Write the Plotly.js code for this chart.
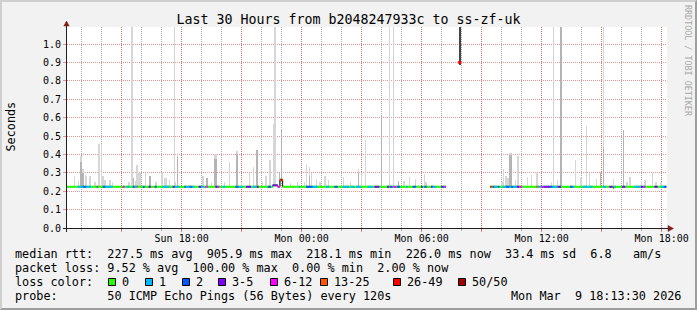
<!DOCTYPE html>
<html><head><meta charset="utf-8">
<script src="https://cdn.plot.ly/plotly-3.0.1.min.js"></script>
<style>
html,body{margin:0;padding:0;background:#f2f2f2;}
#wrap{position:relative;width:697px;height:310px;overflow:hidden;}
#chart{position:absolute;left:0;top:0;width:697px;height:310px;}
#frame{position:absolute;left:0;top:0;width:697px;height:310px;box-sizing:border-box;border-style:solid;border-width:2px;border-color:#cfcfcf #9e9e9e #9e9e9e #cfcfcf;pointer-events:none;}
</style></head><body>
<div id="wrap"><div id="chart"></div><div id="frame"></div></div>
<script>
// ---------------- data ----------------
const titleText = 'Last 30 Hours from b2048247933c to ss-zf-uk';
const xRange = ['2026-03-08 12:16', '2026-03-09 18:16'];
const xTickVals = ['2026-03-08 15:00','2026-03-08 18:00','2026-03-08 21:00','2026-03-09 00:00','2026-03-09 03:00',
                   '2026-03-09 06:00','2026-03-09 09:00','2026-03-09 12:00','2026-03-09 15:00','2026-03-09 18:00'];
const xTickText = ['', 'Sun 18:00', '', 'Mon 00:00', '', 'Mon 06:00', '', 'Mon 12:00', '', 'Mon 18:00'];

const lossColors = ['#26ff00','#00b8ff','#0059ff','#7e00ff','#ff00ff','#ff5500','#ff0000','#a10000'];
const lossLabels = ['0','1','2','3-5','6-12','13-25','26-49','50/50'];

// median rtt (seconds), step series; null = no data
const medianTime = ['2026-03-08 12:16','2026-03-08 22:33','2026-03-08 22:48','2026-03-08 22:55','2026-03-08 23:03',
                    '2026-03-09 07:13','2026-03-09 07:14','2026-03-09 09:26','2026-03-09 15:35','2026-03-09 15:37','2026-03-09 18:14'];
const medianVal  = [0.224, 0.232, 0.224, 0.262, 0.224, 0.224, null, 0.224, 0.216, 0.224, 0.224];

// smoke (spread of the pings above the median)
const smokeTime = [
 '2026-03-08 12:38','2026-03-08 12:50','2026-03-08 12:58','2026-03-08 13:04','2026-03-08 13:11','2026-03-08 13:15',
 '2026-03-08 13:25','2026-03-08 13:40','2026-03-08 13:52','2026-03-08 13:59','2026-03-08 14:04','2026-03-08 14:10',
 '2026-03-08 14:25','2026-03-08 14:33','2026-03-08 15:22','2026-03-08 15:29','2026-03-08 15:32','2026-03-08 15:35',
 '2026-03-08 15:41','2026-03-08 15:46','2026-03-08 15:52','2026-03-08 15:57','2026-03-08 16:11','2026-03-08 16:25',
 '2026-03-08 16:43','2026-03-08 17:01','2026-03-08 17:10','2026-03-08 17:15','2026-03-08 17:24','2026-03-08 17:38',
 '2026-03-08 17:41','2026-03-08 17:48','2026-03-08 19:04','2026-03-08 19:16','2026-03-08 19:29','2026-03-08 19:40',
 '2026-03-08 19:43','2026-03-08 20:09','2026-03-08 20:23','2026-03-08 20:46','2026-03-08 20:59','2026-03-08 21:23',
 '2026-03-08 21:35','2026-03-08 21:46','2026-03-08 22:03','2026-03-08 22:13','2026-03-08 22:25','2026-03-08 22:35',
 '2026-03-08 22:39','2026-03-08 22:42','2026-03-08 22:53','2026-03-08 22:59','2026-03-08 23:26','2026-03-08 23:48',
 '2026-03-09 00:08','2026-03-09 00:15','2026-03-09 00:23','2026-03-09 00:30','2026-03-09 00:44','2026-03-09 00:55',
 '2026-03-09 01:10','2026-03-09 01:20','2026-03-09 02:05','2026-03-09 02:26','2026-03-09 02:50','2026-03-09 02:59',
 '2026-03-09 03:11','2026-03-09 03:59','2026-03-09 04:23','2026-03-09 04:35','2026-03-09 04:50','2026-03-09 05:07',
 '2026-03-09 05:23','2026-03-09 05:41','2026-03-09 06:08','2026-03-09 06:13','2026-03-09 10:01','2026-03-09 10:05',
 '2026-03-09 10:13','2026-03-09 10:19','2026-03-09 10:25','2026-03-09 10:29','2026-03-09 10:41','2026-03-09 10:49',
 '2026-03-09 11:18','2026-03-09 11:30','2026-03-09 11:46','2026-03-09 12:30','2026-03-09 12:35','2026-03-09 12:48',
 '2026-03-09 12:58','2026-03-09 13:42','2026-03-09 13:58','2026-03-09 14:14','2026-03-09 14:23','2026-03-09 14:44',
 '2026-03-09 14:56','2026-03-09 15:06','2026-03-09 15:36','2026-03-09 16:06','2026-03-09 16:16','2026-03-09 16:25',
 '2026-03-09 17:00','2026-03-09 17:10','2026-03-09 17:33','2026-03-09 17:43','2026-03-09 17:58'];
const smokeMax = [
 0.28,0.257,0.393,0.32,0.29,0.283,
 0.28,0.25,0.458,0.458,0.28,0.26,
 0.26,0.25,0.25,1.5,1.5,0.27,
 0.255,0.34,0.30,0.30,0.30,0.28,
 0.25,0.30,0.27,0.27,0.26,1.5,
 0.25,0.41,0.285,0.27,0.25,0.40,
 0.40,0.25,0.36,0.42,0.25,0.30,
 0.33,0.425,0.25,0.28,0.37,0.565,
 1.5,1.5,0.30,0.534,0.245,0.25,
 0.25,0.35,0.33,0.30,0.265,0.25,
 0.285,0.26,0.275,0.25,0.32,0.30,
 0.476,0.61,1.5,1.5,0.255,0.255,
 0.275,0.265,0.295,0.25,0.25,0.32,
 0.285,0.27,0.41,0.41,0.26,0.39,
 0.275,0.29,0.30,0.25,1.5,0.26,
 1.5,0.37,0.27,0.556,0.30,0.265,
 0.305,1.5,0.265,0.53,0.25,0.275,
 0.255,0.26,0.30,0.25,0.25];
const smokeMid = [
 null,null,0.36,0.30,null,null,
 null,null,null,null,null,null,
 null,null,null,null,null,0.27,
 null,null,null,null,null,0.28,
 null,null,null,null,null,null,
 null,0.385,null,0.27,null,0.376,
 0.376,null,null,0.40,null,null,
 null,0.425,null,null,null,null,
 null,null,0.30,0.534,null,null,
 null,null,0.28,null,null,null,
 null,null,null,null,0.30,null,
 null,0.61,null,null,0.255,null,
 null,null,null,null,null,null,
 null,null,0.395,0.395,null,null,
 null,null,null,null,null,null,
 1.5,null,null,null,null,null,
 0.30,0.44,null,0.53,null,null,
 null,null,null,null,null];

// packet loss periods (index into lossColors)
const lossStart = [
 '2026-03-08 12:48','2026-03-08 13:03','2026-03-08 13:13','2026-03-08 13:45','2026-03-08 14:03','2026-03-08 14:11',
 '2026-03-08 15:03','2026-03-08 15:15','2026-03-08 15:33','2026-03-08 15:39','2026-03-08 15:45','2026-03-08 16:03',
 '2026-03-08 16:21','2026-03-08 16:39','2026-03-08 17:03','2026-03-08 17:33','2026-03-08 17:39','2026-03-08 18:08',
 '2026-03-08 18:13','2026-03-08 18:23','2026-03-08 18:31','2026-03-08 18:51','2026-03-08 18:58','2026-03-08 19:11',
 '2026-03-08 19:41','2026-03-08 19:48','2026-03-08 20:03','2026-03-08 20:41','2026-03-08 20:53','2026-03-08 21:13',
 '2026-03-08 21:33','2026-03-08 21:45','2026-03-08 22:18','2026-03-08 22:33','2026-03-08 22:48','2026-03-08 22:55',
 '2026-03-08 23:51','2026-03-09 00:13','2026-03-09 00:33','2026-03-09 01:13','2026-03-09 01:38','2026-03-09 02:03',
 '2026-03-09 02:28','2026-03-09 02:43','2026-03-09 03:18','2026-03-09 03:38','2026-03-09 04:16','2026-03-09 04:25',
 '2026-03-09 04:35','2026-03-09 04:45','2026-03-09 05:13','2026-03-09 05:33','2026-03-09 05:58','2026-03-09 06:08',
 '2026-03-09 06:28','2026-03-09 06:33','2026-03-09 06:58','2026-03-09 07:03','2026-03-09 07:08','2026-03-09 09:26',
 '2026-03-09 09:29','2026-03-09 09:33','2026-03-09 09:38','2026-03-09 09:48','2026-03-09 10:03','2026-03-09 10:13',
 '2026-03-09 10:23','2026-03-09 10:28','2026-03-09 10:35','2026-03-09 10:45','2026-03-09 10:53','2026-03-09 11:43',
 '2026-03-09 11:48','2026-03-09 11:58','2026-03-09 12:05','2026-03-09 12:25','2026-03-09 12:33','2026-03-09 12:48',
 '2026-03-09 13:25','2026-03-09 13:33','2026-03-09 14:03','2026-03-09 14:21','2026-03-09 15:03','2026-03-09 15:23',
 '2026-03-09 15:38','2026-03-09 16:01','2026-03-09 16:38','2026-03-09 16:58','2026-03-09 17:05','2026-03-09 17:38',
 '2026-03-09 17:58','2026-03-09 18:06'];
const lossEnd = [
 '2026-03-08 13:03','2026-03-08 13:13','2026-03-08 13:28','2026-03-08 13:48','2026-03-08 14:11','2026-03-08 14:33',
 '2026-03-08 15:09','2026-03-08 15:23','2026-03-08 15:39','2026-03-08 15:45','2026-03-08 15:48','2026-03-08 16:09',
 '2026-03-08 16:27','2026-03-08 16:45','2026-03-08 17:23','2026-03-08 17:39','2026-03-08 17:53','2026-03-08 18:13',
 '2026-03-08 18:23','2026-03-08 18:31','2026-03-08 18:38','2026-03-08 18:58','2026-03-08 19:08','2026-03-08 19:18',
 '2026-03-08 19:48','2026-03-08 19:53','2026-03-08 20:11','2026-03-08 20:51','2026-03-08 21:03','2026-03-08 21:28',
 '2026-03-08 21:43','2026-03-08 21:51','2026-03-08 22:28','2026-03-08 22:48','2026-03-08 22:55','2026-03-08 23:03',
 '2026-03-08 23:55','2026-03-09 00:33','2026-03-09 00:48','2026-03-09 01:23','2026-03-09 01:48','2026-03-09 02:23',
 '2026-03-09 02:38','2026-03-09 02:58','2026-03-09 03:33','2026-03-09 03:53','2026-03-09 04:23','2026-03-09 04:33',
 '2026-03-09 04:43','2026-03-09 04:55','2026-03-09 05:18','2026-03-09 05:43','2026-03-09 06:03','2026-03-09 06:15',
 '2026-03-09 06:33','2026-03-09 06:43','2026-03-09 07:03','2026-03-09 07:08','2026-03-09 07:13','2026-03-09 09:29',
 '2026-03-09 09:33','2026-03-09 09:38','2026-03-09 09:48','2026-03-09 09:53','2026-03-09 10:13','2026-03-09 10:23',
 '2026-03-09 10:28','2026-03-09 10:35','2026-03-09 10:45','2026-03-09 10:53','2026-03-09 11:01','2026-03-09 11:48',
 '2026-03-09 11:58','2026-03-09 12:05','2026-03-09 12:25','2026-03-09 12:33','2026-03-09 12:48','2026-03-09 12:58',
 '2026-03-09 13:33','2026-03-09 13:38','2026-03-09 14:18','2026-03-09 14:33','2026-03-09 15:13','2026-03-09 15:33',
 '2026-03-09 15:43','2026-03-09 16:11','2026-03-09 16:58','2026-03-09 17:05','2026-03-09 17:11','2026-03-09 17:48',
 '2026-03-09 18:06','2026-03-09 18:14'];
const lossClass = [
 1,2,1,3,2,1,
 4,1,2,1,4,2,
 3,2,1,3,1,2,
 1,2,1,3,1,4,
 3,4,1,2,1,3,
 1,3,2,3,4,6,
 1,2,1,1,2,1,
 1,1,1,3,3,2,
 4,2,1,2,3,2,
 3,1,3,2,4,7,
 5,2,1,2,1,2,
 1,2,1,3,4,5,
 1,4,3,2,1,3,
 2,1,1,1,1,3,
 1,3,1,3,4,3,
 1,2];

// isolated sample during the outage
const outageTime = ['2026-03-09 07:54'];
const outageMedian = [0.90];
const outageSmokeLow = [0.885];
const outageSmokeHigh = [1.5];

const legendLines = [
 'median rtt:  227.5 ms avg  905.9 ms max  218.1 ms min  226.0 ms now  33.4 ms sd  6.8   am/s',
 'packet loss: 9.52 % avg  100.00 % max  0.00 % min  2.00 % now',
 'loss color:',
 'probe:       50 ICMP Echo Pings (56 Bytes) every 120s'];
const stampText = 'Mon Mar  9 18:13:30 2026';
const watermark = 'RRDTOOL / TOBI OETIKER';

// ---------------- drawing ----------------
const FONT = 'DejaVu Sans Mono';
const L = 67, T = 27, W = 600, H = 201;
const YMAX = H / 184;
const P = px => (px - L) / W;          // pixel -> paper x
const Q = py => (T + H - py) / H;      // pixel -> paper y
const nb = s => s.replace(/ /g, '\u00a0');

function medianAt(t) {
  let v = null;
  for (let i = 0; i < medianTime.length; i++) { if (medianTime[i] <= t) v = medianVal[i]; }
  return v;
}

const traces = [];
const BW = 240000;
// smoke
const sBase = smokeTime.map(medianAt);
traces.push({type:'bar', x: smokeTime, base: sBase, y: smokeMax.map((v,i)=>v - sBase[i]),
  width: BW, marker:{color:'#d6d6d6', line:{width:0}}, hoverinfo:'skip'});
const midIdx = smokeMid.map((v,i)=>v===null?-1:i).filter(i=>i>=0);
traces.push({type:'bar', x: midIdx.map(i=>smokeTime[i]), base: midIdx.map(i=>sBase[i]),
  y: midIdx.map(i=>smokeMid[i]-sBase[i]), width: BW, marker:{color:'#b4b4b4', line:{width:0}}, hoverinfo:'skip'});
// outage sample smoke
traces.push({type:'bar', x: outageTime, base: outageSmokeLow, y: outageSmokeHigh.map((v,i)=>v-outageSmokeLow[i]),
  width: 300000, marker:{color:'#454545', line:{width:0}}, hoverinfo:'skip'});
// median connector (vertical joins)
traces.push({type:'scatter', mode:'lines', x: medianTime, y: medianVal, line:{shape:'hv', color:'#000000', width:1},
  connectgaps:false, hoverinfo:'skip'});
// median in green (0 loss)
const gx = [], gy = [];
for (let i = 0; i < medianTime.length - 1; i++) {
  if (medianVal[i] === null || medianVal[i+1] === null) continue;
  gx.push(medianTime[i], medianTime[i+1], null); gy.push(medianVal[i], medianVal[i], null);
}
traces.push({type:'scatter', mode:'lines', x: gx, y: gy, line:{color: lossColors[0], width:2}, hoverinfo:'skip'});
// loss colored segments
for (let c = 1; c < lossColors.length; c++) {
  const x = [], y = [];
  lossClass.forEach((k,i) => { if (k === c) { const m = medianAt(lossStart[i]); x.push(lossStart[i], lossEnd[i], null); y.push(m, m, null); } });
  if (x.length) traces.push({type:'scatter', mode:'lines', x, y, line:{color: lossColors[c], width:2}, hoverinfo:'skip'});
}
traces.push({type:'scatter', mode:'markers', x: outageTime, y: outageMedian,
  marker:{symbol:'square', size:3, color: lossColors[6], line:{width:0}}, hoverinfo:'skip'});

const GRID = 'rgba(143,143,143,0.75)', MGRID = 'rgba(222,79,79,0.6)';
const shapes = [
  {type:'line', xref:'paper', yref:'paper', x0:P(66.5), x1:P(66.5), y0:Q(232), y1:Q(25.5), line:{color:'#1f1f1f', width:1}},
  {type:'line', xref:'paper', yref:'paper', x0:P(63), x1:P(668.5), y0:Q(228.5), y1:Q(228.5), line:{color:'#1f1f1f', width:1}},
  {type:'path', xref:'paper', yref:'paper', path:`M ${P(668)} ${Q(225.5)} L ${P(673.5)} ${Q(228.5)} L ${P(668)} ${Q(231.5)} Z`,
    fillcolor:'#801f1f', line:{color:'#801f1f', width:0.5}},
  {type:'path', xref:'paper', yref:'paper', path:`M ${P(63.8)} ${Q(26)} L ${P(66.5)} ${Q(21)} L ${P(69.2)} ${Q(26)} Z`,
    fillcolor:'#801f1f', line:{color:'#801f1f', width:0.5}}
];
const boxLeft = [108.5,145.5,182.5,218.5,270.5,320.5,393.5,458.5];
const labelLeft = [123,160,196.5,233,285,335,408,473];
const annotations = [];
const ann = (text, px, py, extra) => annotations.push(Object.assign({text: nb(text), xref:'paper', yref:'paper',
  x:P(px), y:Q(py), xanchor:'left', yanchor:'middle', showarrow:false, borderpad:0, borderwidth:0,
  font:{family:FONT, size:11.8, color:'#000'}}, extra||{}));
boxLeft.forEach((b,i) => {
  shapes.push({type:'rect', xref:'paper', yref:'paper', x0:P(b), x1:P(b+7), y0:Q(285.5), y1:Q(278.5),
    fillcolor: lossColors[i], line:{color:'#000', width:1}});
  ann(lossLabels[i], labelLeft[i]-0.7, 282.3);
});
ann(legendLines[0], 15.3, 254.3);
ann(legendLines[1], 15.3, 268.3);
ann(legendLines[2], 15.3, 282.3);
ann(legendLines[3], 15.3, 296);
ann(stampText, 681, 296, {xanchor:'right'});
ann('Seconds', 10.5, 127, {xanchor:'center', textangle:-90});
ann(watermark, 688, 61, {xanchor:'center', textangle:90, font:{family:FONT, size:8.4, color:'#a8a8a8'}});

const layout = {
  width:697, height:310, margin:{l:L, r:697-L-W, t:T, b:310-T-H, pad:0},
  paper_bgcolor:'#f2f2f2', plot_bgcolor:'#ffffff', showlegend:false, barmode:'overlay', bargap:0,
  title:{text:titleText, font:{family:FONT, size:13.3, color:'#000'}, x:0.5, xref:'container', xanchor:'center',
    y:1-19.5/310, yref:'container', yanchor:'middle'},
  xaxis:{type:'date', range:xRange, tickmode:'array', tickvals:xTickVals, ticktext:xTickText,
    showgrid:true, gridcolor:MGRID, griddash:'1px,1px', gridwidth:1,
    ticks:'outside', ticklen:3, tickcolor:MGRID, tickwidth:1, ticklabelstandoff:-2,
    minor:{tickmode:'linear', tick0:'2026-03-08 00:00', dtick:3600000, showgrid:true, gridcolor:GRID,
      griddash:'1px,1px', gridwidth:1, ticks:'outside', ticklen:2, tickcolor:GRID},
    showline:false, zeroline:false, fixedrange:true,
    tickfont:{family:FONT, size:10, color:'#000'}},
  yaxis:{range:[0, YMAX], tickmode:'linear', tick0:0, dtick:0.1, tickformat:'.1f',
    showgrid:true, gridcolor:MGRID, griddash:'1px,1px', gridwidth:1,
    ticks:'outside', ticklen:3, tickcolor:MGRID, tickwidth:1,
    showline:false, zeroline:false, fixedrange:true,
    tickfont:{family:FONT, size:10, color:'#000'}},
  shapes, annotations
};
Plotly.newPlot('chart', traces, layout, {staticPlot:true, displayModeBar:false});
</script>
</body></html>
